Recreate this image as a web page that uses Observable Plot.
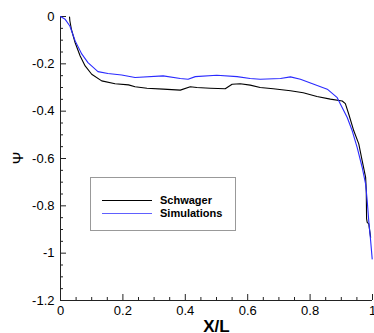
<!DOCTYPE html>
<html>
<head>
<meta charset="utf-8">
<script src="https://cdn.jsdelivr.net/npm/d3@7"></script>
<script src="https://cdn.jsdelivr.net/npm/@observablehq/plot@0.6"></script>
<style>
  html, body { margin: 0; padding: 0; background: #fff; }
  #wrap { position: relative; width: 374px; height: 333px; font-family: "Liberation Sans", Arial, sans-serif; }
  #legend { position: absolute; left: 90px; top: 177px; width: 144px; height: 52px; border: 1px solid #999; background: #fff; box-sizing: content-box; }
  .sw { position: absolute; left: 11px; width: 50px; height: 1px; }
  .lab { position: absolute; left: 69px; font-size: 11px; font-weight: bold; white-space: nowrap; line-height: 12px; transform: translateY(-6px); color: #000; }
</style>
</head>
<body>
<div id="wrap"></div>
<script>
// Schwager (experiment)
const schwagerX = [0.029, 0.030, 0.035, 0.047, 0.063, 0.079, 0.100, 0.132, 0.175, 0.218, 0.239, 0.277, 0.329, 0.384, 0.416, 0.437, 0.480, 0.528, 0.550, 0.576, 0.608, 0.640, 0.682, 0.737, 0.778, 0.822, 0.865, 0.903, 0.913, 0.924, 0.940, 0.956, 0.967, 0.978, 0.980, 0.981, 0.983, 0.988, 0.991, 0.994];
const schwagerY = [-0.002, -0.018, -0.055, -0.111, -0.167, -0.209, -0.244, -0.272, -0.284, -0.289, -0.297, -0.303, -0.307, -0.311, -0.297, -0.300, -0.303, -0.305, -0.286, -0.284, -0.290, -0.300, -0.305, -0.314, -0.322, -0.338, -0.349, -0.357, -0.368, -0.413, -0.483, -0.538, -0.610, -0.680, -0.736, -0.854, -0.870, -0.876, -0.905, -0.933];
// Simulations
const simX = [0.000, 0.015, 0.030, 0.047, 0.068, 0.088, 0.120, 0.152, 0.196, 0.239, 0.329, 0.384, 0.409, 0.432, 0.501, 0.566, 0.608, 0.640, 0.705, 0.737, 0.769, 0.812, 0.855, 0.887, 0.897, 0.919, 0.935, 0.951, 0.967, 0.978, 0.983, 0.988, 0.994, 0.999];
const simY = [0.000, -0.012, -0.040, -0.103, -0.158, -0.195, -0.233, -0.241, -0.247, -0.258, -0.251, -0.262, -0.265, -0.254, -0.248, -0.254, -0.262, -0.265, -0.262, -0.255, -0.265, -0.286, -0.307, -0.343, -0.370, -0.427, -0.483, -0.554, -0.638, -0.708, -0.778, -0.863, -0.947, -1.024];

const seriesNames = ["Schwager", "Simulations"];
const seriesColors = ["#000000", "#2a2aff"];
const legendColors = ["#000000", "#6060ff"];

const xMajor = [0, 0.2, 0.4, 0.6, 0.8, 1];
const xMajorLabels = ["0", "0.2", "0.4", "0.6", "0.8", "1"];
const yMajor = [0, -0.2, -0.4, -0.6, -0.8, -1, -1.2];
const yMajorLabels = ["0", "-0.2", "-0.4", "-0.6", "-0.8", "-1", "-1.2"];
const xMinor = [0.05, 0.1, 0.15, 0.25, 0.3, 0.35, 0.45, 0.5, 0.55, 0.65, 0.7, 0.75, 0.85, 0.9, 0.95];
const yMinor = [-0.05, -0.1, -0.15, -0.25, -0.3, -0.35, -0.45, -0.5, -0.55, -0.65, -0.7, -0.75, -0.85, -0.9, -0.95, -1.05, -1.1, -1.15];

const xLabel = "X/L";
const yLabel = "Ψ";

const schwager = schwagerX.map((x, i) => ({x, y: schwagerY[i]}));
const sim = simX.map((x, i) => ({x, y: simY[i]}));

const fmtX = d => xMajorLabels[xMajor.indexOf(d)];
const fmtY = d => yMajorLabels[yMajor.indexOf(d)];

const chart = Plot.plot({
  width: 374,
  height: 333,
  marginLeft: 60,
  marginRight: 2,
  marginTop: 16,
  marginBottom: 33,
  x: {domain: [0, 1]},
  y: {domain: [-1.2, 0]},
  style: {fontFamily: "'Liberation Sans', Arial, sans-serif", fontSize: "13px", color: "#000", background: "#fff", overflow: "visible"},
  marks: [
    Plot.axisX({ticks: xMinor, tickSize: -3, tickFormat: () => "", label: null, stroke: "#222"}),
    Plot.axisX({ticks: xMajor, tickSize: -6, tickPadding: 11, tickFormat: fmtX, label: null, stroke: "#222"}),
    Plot.axisY({ticks: yMinor, tickSize: -3, tickFormat: () => "", label: null, stroke: "#222"}),
    Plot.axisY({ticks: yMajor, tickSize: -6, tickPadding: 12, tickFormat: fmtY, label: null, stroke: "#222"}),
    Plot.ruleX([0], {stroke: "#222", strokeWidth: 1}),
    Plot.ruleY([-1.2], {stroke: "#222", strokeWidth: 1}),
    Plot.line(schwager, {x: "x", y: "y", stroke: seriesColors[0], strokeWidth: 1.1}),
    Plot.line(sim, {x: "x", y: "y", stroke: seriesColors[1], strokeWidth: 1.1}),
    Plot.text([xLabel], {frameAnchor: "bottom", dy: 26, lineAnchor: "middle", fontSize: 17, fontWeight: "bold"})
  ]
});

const wrap = document.getElementById("wrap");
wrap.appendChild(chart);

// Rotated y-axis label (Ψ), as real SVG text
d3.select(chart).append("text")
  .attr("transform", "translate(18,158) rotate(-90)")
  .attr("text-anchor", "middle")
  .attr("dy", "0.35em")
  .attr("font-size", 15)
  .attr("fill", "#000")
  .text(yLabel);

const legend = document.createElement("div");
legend.id = "legend";
const rowsY = [22, 35];
seriesNames.forEach((name, i) => {
  const sw = document.createElement("div");
  sw.className = "sw";
  sw.style.top = rowsY[i] + "px";
  sw.style.background = legendColors[i];
  legend.appendChild(sw);
  const lab = document.createElement("div");
  lab.className = "lab";
  lab.style.top = rowsY[i] + "px";
  lab.textContent = name;
  legend.appendChild(lab);
});
wrap.appendChild(legend);
</script>
</body>
</html>
